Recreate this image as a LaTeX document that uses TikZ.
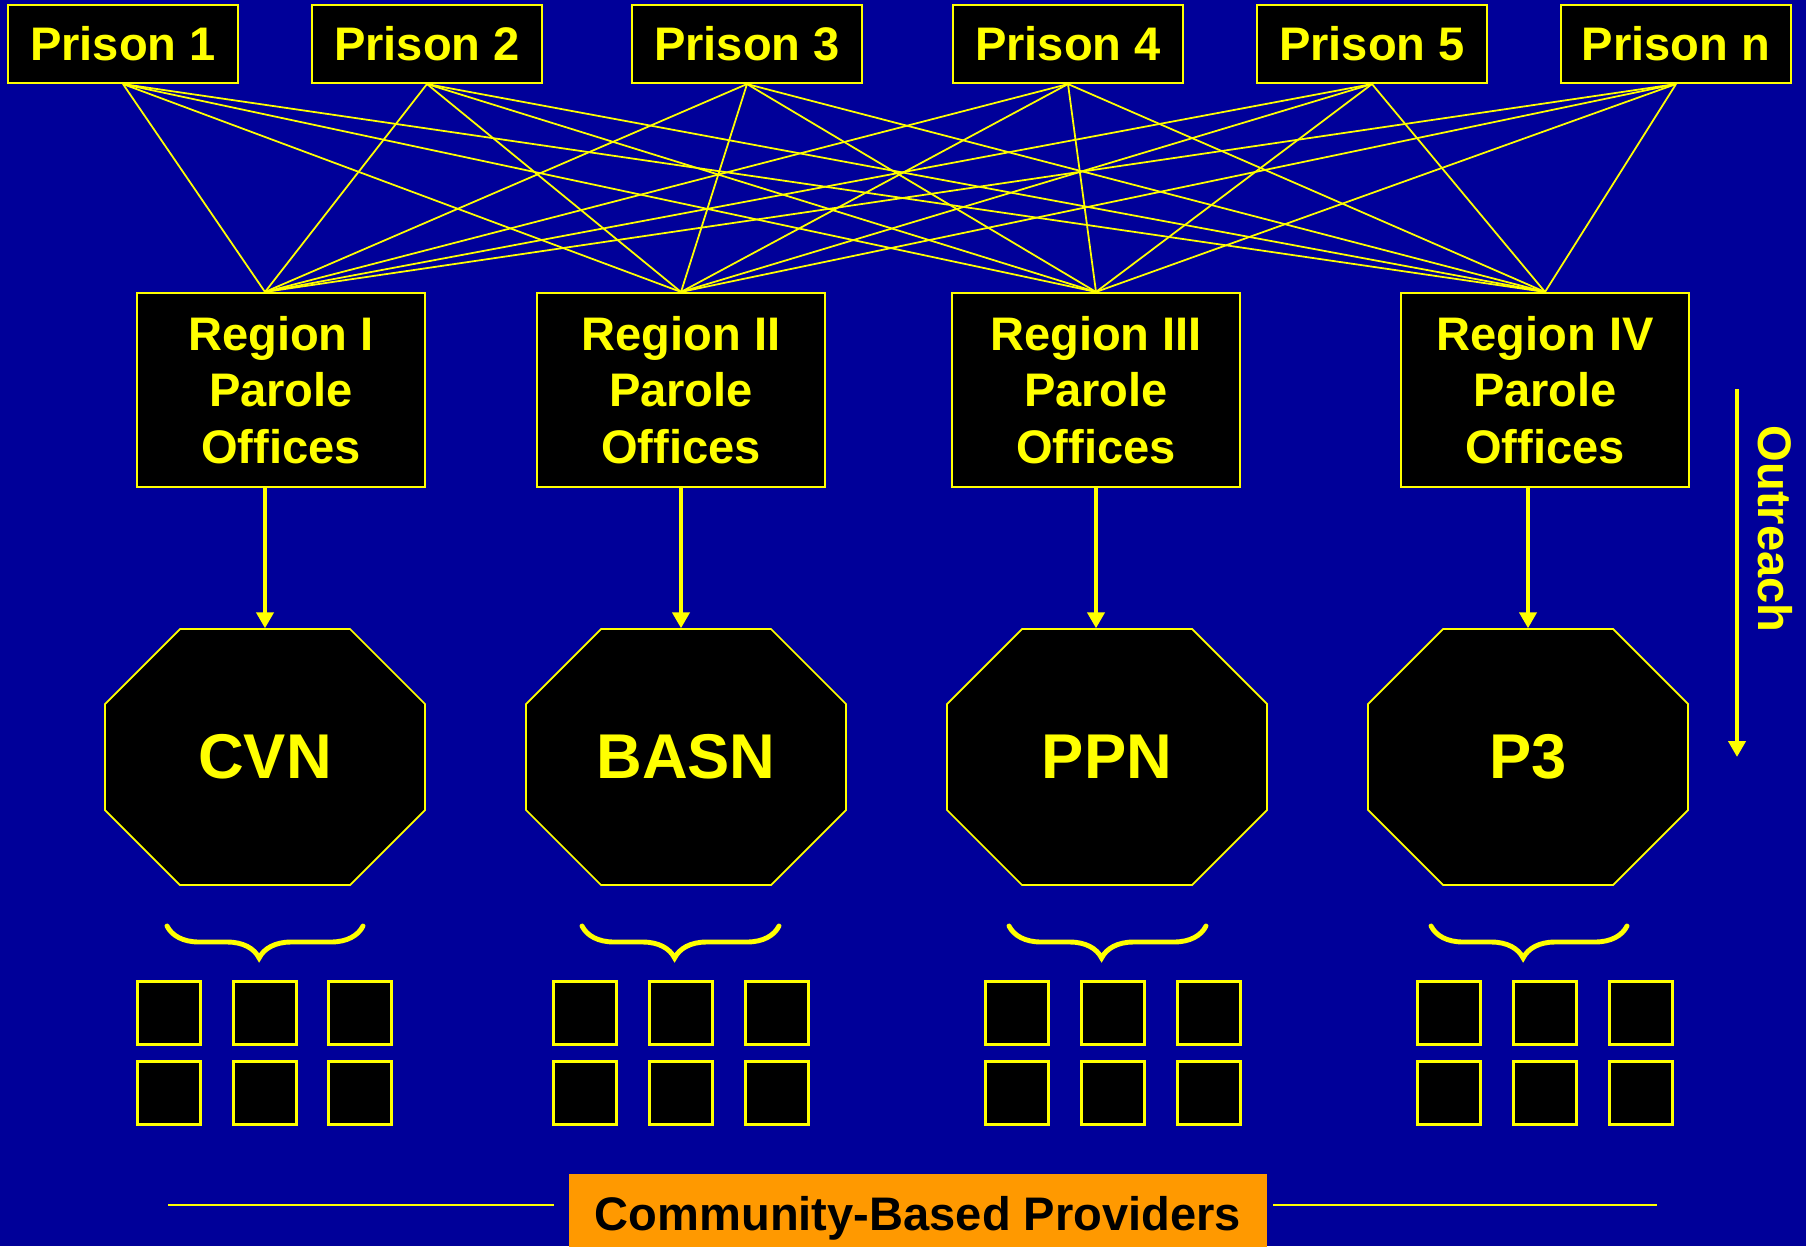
\documentclass[tikz,border=0pt]{standalone}
\usepackage{fontspec}
\setmainfont{Liberation Sans}
\usepackage{tikz}
\usetikzlibrary{arrows.meta,decorations.pathreplacing}
\definecolor{pp_blue}{RGB}{0, 0, 153}
\definecolor{pp_yellow}{RGB}{255, 255, 0}
\definecolor{pp_orange}{RGB}{255, 153, 0}
\tikzstyle{pn}=[rectangle,fill=black,draw=pp_yellow,line width=0.6pt,inner sep=0pt,
  minimum width=23mm,minimum height=7.8mm,text=pp_yellow,
  font=\fontsize{13.4}{16.1}\selectfont\bfseries]
\tikzstyle{rn}=[rectangle,fill=black,draw=pp_yellow,line width=0.6pt,inner sep=0pt,
  minimum width=28.8mm,minimum height=19.4mm,align=center,text=pp_yellow,
  font=\fontsize{13.4}{16.1}\selectfont\bfseries]
\tikzstyle{octn}=[inner sep=0pt,minimum width=32mm,minimum height=25.6mm,text=pp_yellow,
  font=\fontsize{18}{21}\selectfont\bfseries]
\tikzstyle{octo}=[fill=black,draw=pp_yellow,line width=0.5pt]
\tikzstyle{sq}=[rectangle,fill=black,draw=pp_yellow,line width=0.7pt,inner sep=0pt,
  minimum size=6.3mm]
\tikzstyle{wire}=[pp_yellow,line width=0.5pt]
\tikzstyle{feed}=[pp_yellow,line width=1.4pt,-{Triangle[width=1.7mm,length=1.6mm]}]
\tikzstyle{brc}=[pp_yellow,line width=1.4pt,line cap=round,decorate,
  decoration={brace,mirror,amplitude=3.2mm,aspect=0.47}]
\tikzstyle{cb}=[rectangle,fill=pp_orange,inner sep=0pt,minimum width=69.8mm,
  minimum height=8.8mm,text=black,font=\fontsize{13.4}{16.1}\selectfont\bfseries]

\begin{document}
\begin{tikzpicture}[x=0.1mm,y=-0.1mm]
    \useasboundingbox (0,0) rectangle (1806,1246);
    \fill[pp_blue] (0,0) rectangle (1806,1246);

    % prisons
    \node [style=pn] (p1) at (123,44) {Prison 1};
    \node [style=pn] (p2) at (427,44) {Prison 2};
    \node [style=pn] (p3) at (747,44) {Prison 3};
    \node [style=pn] (p4) at (1068,44) {Prison 4};
    \node [style=pn] (p5) at (1372,44) {Prison 5};
    \node [style=pn] (pn) at (1676,44) {Prison n};

    % parole offices
    \node [style=rn] (r1) at (281,390) {Region I\\Parole\\Offices};
    \node [style=rn] (r2) at (681,390) {Region II\\Parole\\Offices};
    \node [style=rn] (r3) at (1096,390) {Region III\\Parole\\Offices};
    \node [style=rn] (r4) at (1545,390) {Region IV\\Parole\\Offices};

    % networks
    \draw[octo] (180,629) -- ++(170,0) -- ++(75,75) -- ++(0,106) -- ++(-75,75)
      -- ++(-170,0) -- ++(-75,-75) -- ++(0,-106) -- cycle;
    \draw[octo] (601,629) -- ++(170,0) -- ++(75,75) -- ++(0,106) -- ++(-75,75)
      -- ++(-170,0) -- ++(-75,-75) -- ++(0,-106) -- cycle;
    \draw[octo] (1022,629) -- ++(170,0) -- ++(75,75) -- ++(0,106) -- ++(-75,75)
      -- ++(-170,0) -- ++(-75,-75) -- ++(0,-106) -- cycle;
    \draw[octo] (1443,629) -- ++(170,0) -- ++(75,75) -- ++(0,106) -- ++(-75,75)
      -- ++(-170,0) -- ++(-75,-75) -- ++(0,-106) -- cycle;
    \node [style=octn] (cvn) at (265,757) {CVN};
    \node [style=octn] (basn) at (686,757) {BASN};
    \node [style=octn] (ppn) at (1107,757) {PPN};
    \node [style=octn] (p3n) at (1528,757) {P3};

    % prison to region links
    \draw[wire] (p1.south) to (r1.north -| cvn);
    \draw[wire] (p1.south) to (r2.north);
    \draw[wire] (p1.south) to (r3.north);
    \draw[wire] (p1.south) to (r4.north);
    \draw[wire] (p2.south) to (r1.north -| cvn);
    \draw[wire] (p2.south) to (r2.north);
    \draw[wire] (p2.south) to (r3.north);
    \draw[wire] (p2.south) to (r4.north);
    \draw[wire] (p3.south) to (r1.north -| cvn);
    \draw[wire] (p3.south) to (r2.north);
    \draw[wire] (p3.south) to (r3.north);
    \draw[wire] (p3.south) to (r4.north);
    \draw[wire] (p4.south) to (r1.north -| cvn);
    \draw[wire] (p4.south) to (r2.north);
    \draw[wire] (p4.south) to (r3.north);
    \draw[wire] (p4.south) to (r4.north);
    \draw[wire] (p5.south) to (r1.north -| cvn);
    \draw[wire] (p5.south) to (r2.north);
    \draw[wire] (p5.south) to (r3.north);
    \draw[wire] (p5.south) to (r4.north);
    \draw[wire] (pn.south) to (r1.north -| cvn);
    \draw[wire] (pn.south) to (r2.north);
    \draw[wire] (pn.south) to (r3.north);
    \draw[wire] (pn.south) to (r4.north);

    % region to network
    \draw[feed] (r1.south -| cvn) to (cvn.north);
    \draw[feed] (r2.south) to (r2.south |- basn.north);
    \draw[feed] (r3.south) to (r3.south |- ppn.north);
    \draw[feed] (r4.south -| p3n) to (p3n.north);

    % outreach
    \coordinate (otop) at (1737,389);
    \coordinate (obot) at (1737,757);
    \draw[feed] (otop) to (obot);
    \node [text=pp_yellow,font=\fontsize{13.4}{16.1}\selectfont\bfseries,rotate=-90]
      (outr) at (1775,529) {Outreach};

    % braces
    \draw[brc] (167,926) -- (363,926);
    \draw[brc] (582,926) -- (779,926);
    \draw[brc] (1009,926) -- (1206,926);
    \draw[brc] (1431,926) -- (1627,926);

    % providers
    \node [style=sq] (a1) at (169,1013) {};
    \node [style=sq] (a2) at (265,1013) {};
    \node [style=sq] (a3) at (360,1013) {};
    \node [style=sq] (a4) at (169,1093) {};
    \node [style=sq] (a5) at (265,1093) {};
    \node [style=sq] (a6) at (360,1093) {};
    \node [style=sq] (b1) at (585,1013) {};
    \node [style=sq] (b2) at (681,1013) {};
    \node [style=sq] (b3) at (777,1013) {};
    \node [style=sq] (b4) at (585,1093) {};
    \node [style=sq] (b5) at (681,1093) {};
    \node [style=sq] (b6) at (777,1093) {};
    \node [style=sq] (c1) at (1017,1013) {};
    \node [style=sq] (c2) at (1113,1013) {};
    \node [style=sq] (c3) at (1209,1013) {};
    \node [style=sq] (c4) at (1017,1093) {};
    \node [style=sq] (c5) at (1113,1093) {};
    \node [style=sq] (c6) at (1209,1093) {};
    \node [style=sq] (d1) at (1449,1013) {};
    \node [style=sq] (d2) at (1545,1013) {};
    \node [style=sq] (d3) at (1641,1013) {};
    \node [style=sq] (d4) at (1449,1093) {};
    \node [style=sq] (d5) at (1545,1093) {};
    \node [style=sq] (d6) at (1641,1093) {};

    % community label
    \node [style=cb] (cbp) at (918,1218) {Community-Based Providers};
    \coordinate (lft) at (168,1205);
    \coordinate (rgt) at (1657,1205);
    \draw[wire] (lft) to (554,1205);
    \draw[wire] (1273,1205) to (rgt);
  \end{tikzpicture}
\end{document}
